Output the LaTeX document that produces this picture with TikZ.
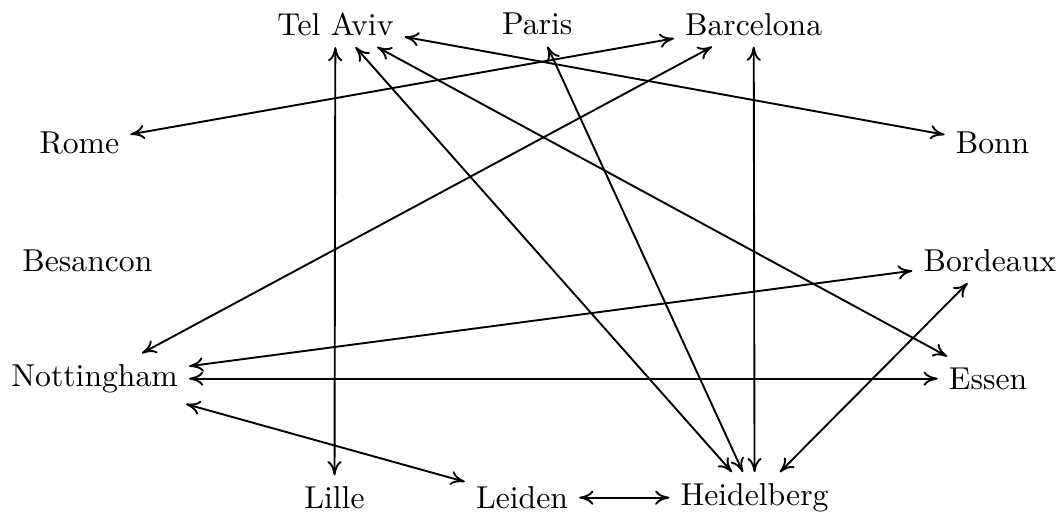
\documentclass[tikz,border=0pt]{standalone}
\usetikzlibrary{arrows.meta}
\usetikzlibrary{positioning}

\begin{document}
\begin{tikzpicture}
	\useasboundingbox (0,0) rectangle (11.78,-5.78);
	\begin{scope}[every node/.style={inner sep=3.33pt}]
		\node (telaviv) at (3.72,-0.27) {Tel Aviv};
		\node (paris) at (5.96,-0.27) {Paris};
		\node (barcelona) at (8.36,-0.27) {Barcelona};
		\node (rome) at (0.88,-1.59) {Rome};
		\node (bonn) at (11.01,-1.59) {Bonn};
		\node (besancon) at (0.97,-2.89) {Besancon};
		\node (bordeaux) at (10.98,-2.89) {Bordeaux};
		\node (nottingham) at (1.05,-4.20) {Nottingham};
		\node (essen) at (10.96,-4.20) {Essen};
		\node (lille) at (3.71,-5.52) {Lille};
		\node (leiden) at (5.79,-5.52) {Leiden};
		\node (heidelberg) at (8.37,-5.52) {Heidelberg};
	\end{scope}

	\begin{scope}[>={To[length=4.5pt,width=4.5pt]},
	              every edge/.style={draw=black,semithick,<->}]
		\path (telaviv) edge (bonn);
		\path (telaviv) edge (lille);
		\path (telaviv) edge (heidelberg);
		\path (telaviv) edge (essen);
		\path (paris) edge (heidelberg);
		\path (barcelona) edge (rome);
		\path (barcelona) edge (heidelberg);
		\path (barcelona) edge (nottingham);
		\path (nottingham) edge (bordeaux);
		\path (nottingham) edge (essen);
		\path (nottingham) edge (leiden);
		\path (leiden) edge (heidelberg);
		\path (bordeaux) edge (heidelberg);
	\end{scope}
\end{tikzpicture}
\end{document}
